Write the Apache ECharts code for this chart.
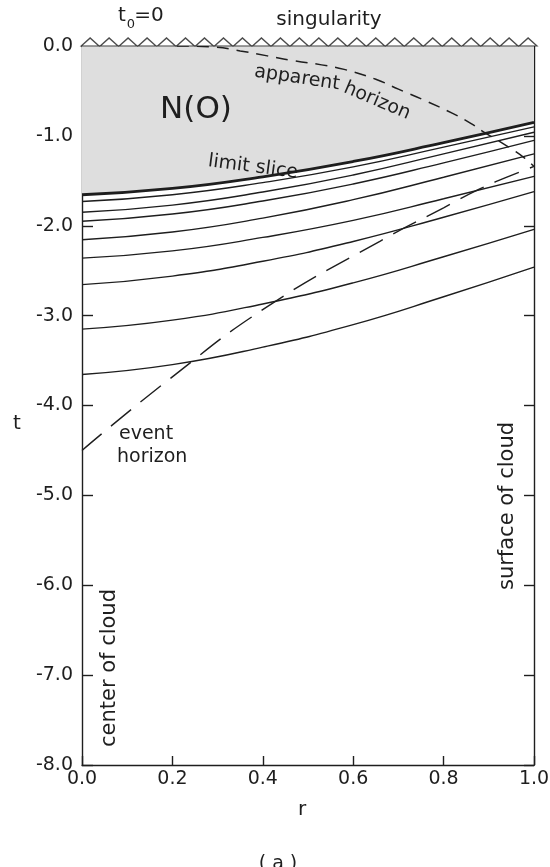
<!DOCTYPE html>
<html style="height: 100%">
<head>
<meta charset="utf-8">
</head>
<body style="height: 100%; margin: 0; background: #fff">
<div id="container" style="width: 550px; height: 867px"></div>
<script src="https://cdn.jsdelivr.net/npm/echarts@6/dist/echarts.min.js"></script>
<script>
var sliceR = [0, 0.2, 0.4, 0.6, 0.8, 1.0];

// t along each slice (limit slice first, then downwards)
var limitSlice = [-1.655, -1.585, -1.455, -1.285, -1.075, -0.85];
var slice2 = [-1.73, -1.655, -1.52, -1.345, -1.125, -0.90];
var slice3 = [-1.85, -1.77, -1.625, -1.435, -1.20, -0.96];
var slice4 = [-1.95, -1.87, -1.725, -1.535, -1.30, -1.05];
var slice5 = [-2.155, -2.07, -1.915, -1.71, -1.46, -1.20];
var slice6 = [-2.36, -2.28, -2.13, -1.94, -1.70, -1.45];
var slice7 = [-2.655, -2.56, -2.395, -2.175, -1.905, -1.62];
var slice8 = [-3.15, -3.05, -2.87, -2.635, -2.345, -2.04];
var slice9 = [-3.655, -3.545, -3.35, -3.10, -2.79, -2.46];

// apparent horizon
var apparentR = [0.21, 0.29, 0.35, 0.41, 0.47, 0.53, 0.58, 0.65, 0.70, 0.76, 0.82, 0.86, 0.89, 0.92, 0.955, 0.98, 1.0];
var apparentT = [0, -0.01, -0.055, -0.11, -0.165, -0.21, -0.26, -0.37, -0.48, -0.61, -0.75, -0.86, -0.96, -1.05, -1.16, -1.25, -1.34];

// event horizon
var eventR = [0, 0.19, 0.41, 0.66, 0.80, 0.88, 0.94, 1.0];
var eventT = [-4.50, -3.72, -2.90, -2.17, -1.80, -1.59, -1.46, -1.34];

// zigzag marks of the singularity along t = 0
var singularityR = [0.018, 0.060, 0.102, 0.144, 0.187, 0.229, 0.271, 0.313, 0.355, 0.397, 0.439, 0.481,
  0.524, 0.566, 0.608, 0.650, 0.692, 0.734, 0.776, 0.818, 0.861, 0.903, 0.945, 0.987];

var xTicks = ['0.0', '0.2', '0.4', '0.6', '0.8', '1.0'];

function pairs(xs, ys) {
  return xs.map(function (x, i) { return [x, ys[i]]; });
}

var ink = '#1e1e1e';
var font = 'DejaVu Sans';

var chart = echarts.init(document.getElementById('container'));

var series = [{
  type: 'line',
  name: 'limit slice',
  data: pairs(sliceR, limitSlice),
  smooth: true,
  symbol: 'none',
  lineStyle: { color: ink, width: 2.8 },
  areaStyle: { color: '#dedede', opacity: 1, origin: 'end' },
  z: 2
}];

[slice2, slice3, slice4, slice5, slice6, slice7, slice8, slice9].forEach(function (s) {
  series.push({
    type: 'line',
    data: pairs(sliceR, s),
    smooth: true,
    symbol: 'none',
    lineStyle: { color: ink, width: 1.4 },
    z: 3
  });
});

series.push({
  type: 'line',
  name: 'apparent horizon',
  data: pairs(apparentR, apparentT),
  smooth: true,
  symbol: 'none',
  lineStyle: { color: ink, width: 1.5, type: [12, 8] },
  z: 4
});

series.push({
  type: 'line',
  name: 'event horizon',
  data: pairs(eventR, eventT),
  smooth: true,
  symbol: 'none',
  lineStyle: { color: ink, width: 1.4, type: [26, 12] },
  z: 4
});

series.push({
  type: 'scatter',
  name: 'singularity',
  data: singularityR.map(function (r) { return [r, 0]; }),
  symbol: 'triangle',
  symbolSize: [18, 8],
  symbolOffset: [0, -4],
  clip: false,
  itemStyle: { color: '#fff', borderColor: ink, borderWidth: 1.2 },
  z: 5
});

function label(text, x, y, size, rot, align) {
  return {
    type: 'text',
    x: x,
    y: y,
    rotation: rot || 0,
    style: {
      text: text,
      fontSize: size,
      fontFamily: font,
      fill: ink,
      align: align || 'center',
      verticalAlign: 'middle'
    },
    z: 10
  };
}

var option = {
  animation: false,
  backgroundColor: '#fff',
  grid: { left: 82, right: 16, top: 46, bottom: 102, outerBoundsMode: 'none' },
  xAxis: [{
    type: 'value',
    min: 0,
    max: 1,
    interval: 0.2,
    position: 'bottom',
    axisLine: { onZero: false, lineStyle: { color: ink, width: 1.4 } },
    axisTick: { inside: true, length: 9, lineStyle: { color: ink, width: 1.4 } },
    axisLabel: {
      margin: 5,
      fontSize: 19,
      fontFamily: font,
      color: ink,
      formatter: function (v) { return xTicks[Math.round(v * 5)]; }
    },
    splitLine: { show: false }
  }, {
    type: 'value',
    min: 0,
    max: 1,
    position: 'top',
    axisLine: { onZero: false, lineStyle: { color: ink, width: 1.4 } },
    axisTick: { show: false },
    axisLabel: { show: false },
    splitLine: { show: false }
  }],
  yAxis: [{
    type: 'value',
    min: -8,
    max: 0,
    interval: 1,
    position: 'left',
    axisLine: { show: true, onZero: false, lineStyle: { color: ink, width: 1.4 } },
    axisTick: { show: true, inside: true, length: 11, lineStyle: { color: ink, width: 1.4 } },
    axisLabel: {
      margin: 9,
      fontSize: 19,
      fontFamily: font,
      color: ink,
      formatter: function (v) { return v.toFixed(1); }
    },
    splitLine: { show: false }
  }, {
    type: 'value',
    min: -8,
    max: 0,
    interval: 1,
    position: 'right',
    axisLine: { show: true, onZero: false, lineStyle: { color: ink, width: 1.4 } },
    axisTick: { show: true, inside: true, length: 10, lineStyle: { color: ink, width: 1.4 } },
    axisLabel: { show: false },
    splitLine: { show: false }
  }],
  series: series,
  graphic: [
    label('t', 122, 16, 20),
    label('0', 131, 25, 13),
    label('=0', 149, 16, 20),
    label('singularity', 329, 20, 20),
    label('N(O)', 196, 110, 31),
    label('apparent', 297, 78, 19, -0.15),
    label('horizon', 377, 101, 19, -0.40),
    label('limit slice', 253, 167, 19, -0.13),
    label('event', 119, 434, 19, 0, 'left'),
    label('horizon', 117, 457, 19, 0, 'left'),
    label('surface of cloud', 508, 506, 21, Math.PI / 2),
    label('center of cloud', 110, 668, 21, Math.PI / 2),
    label('t', 17, 424, 20),
    label('r', 302, 810, 20),
    label('( a )', 278, 864, 19)
  ]
};

chart.setOption(option);
</script>
</body>
</html>
